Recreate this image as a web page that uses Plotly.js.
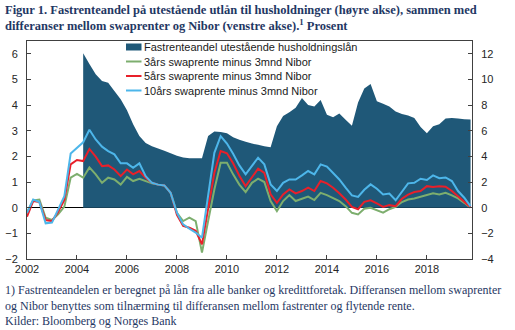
<!DOCTYPE html>
<html>
<head>
<meta charset="utf-8">
<script src="https://cdn.plot.ly/plotly-3.0.1.min.js"></script>
<style>html,body{margin:0;padding:0;background:#fff;}#chart{width:515px;height:330px;}</style>
</head>
<body>
<div id="chart"></div>
<script>
const quarters = [
"2002-01-01","2002-04-01","2002-07-01","2002-10-01","2003-01-01","2003-04-01","2003-07-01","2003-10-01",
"2004-01-01","2004-04-01","2004-07-01","2004-10-01","2005-01-01","2005-04-01","2005-07-01","2005-10-01",
"2006-01-01","2006-04-01","2006-07-01","2006-10-01","2007-01-01","2007-04-01","2007-07-01","2007-10-01",
"2008-01-01","2008-04-01","2008-07-01","2008-10-01","2009-01-01","2009-04-01","2009-07-01","2009-10-01",
"2010-01-01","2010-04-01","2010-07-01","2010-10-01","2011-01-01","2011-04-01","2011-07-01","2011-10-01",
"2012-01-01","2012-04-01","2012-07-01","2012-10-01","2013-01-01","2013-04-01","2013-07-01","2013-10-01",
"2014-01-01","2014-04-01","2014-07-01","2014-10-01","2015-01-01","2015-04-01","2015-07-01","2015-10-01",
"2016-01-01","2016-04-01","2016-07-01","2016-10-01","2017-01-01","2017-04-01","2017-07-01","2017-10-01",
"2018-01-01","2018-04-01","2018-07-01","2018-10-01","2019-01-01","2019-04-01","2019-07-01","2019-10-01"];

// Fixed-rate share (right axis), from 2004Q2
const fixedShareStart = "2004-04-01";
const fixedShare = [12.05,11.2,10.4,9.88,9.75,9.1,8.45,7.6,6.5,5.6,5.05,4.8,4.62,4.45,4.25,4.05,3.92,3.86,3.86,3.86,
5.6,5.95,5.9,5.8,5.5,5.3,5.15,5.0,4.9,4.8,4.72,
6.35,7.15,7.45,7.8,8.56,8.0,7.9,8.4,7.25,7.05,7.35,6.85,
6.4,8.2,9.3,9.65,8.3,8.1,7.9,7.5,7.3,7.2,7.0,6.3,5.8,6.35,6.5,6.95,7.0,6.95,6.9,6.87];

const swap3y = [-0.17,0.28,0.32,-0.39,-0.48,-0.26,0.04,1.17,1.32,1.17,1.57,1.30,0.97,1.17,1.10,0.90,1.20,1.04,1.13,1.04,
0.95,0.90,0.87,0.58,-0.20,-0.52,-0.39,-0.52,-1.75,-0.52,0.71,1.75,1.75,1.30,0.90,0.61,0.97,1.13,1.00,0.26,
-0.13,0.26,0.49,0.26,0.35,0.43,0.30,0.58,0.49,0.39,0.26,0.06,-0.20,-0.26,-0.04,0.00,-0.09,-0.19,-0.06,0.03,
0.22,0.32,0.36,0.42,0.48,0.56,0.52,0.58,0.48,0.36,0.19,0.00];

const swap5y = [-0.35,0.26,0.22,-0.48,-0.52,-0.17,0.30,1.69,1.86,1.82,2.29,1.99,1.62,1.65,1.49,1.23,1.49,1.30,1.43,1.17,
0.97,0.90,0.87,0.58,-0.28,-0.71,-0.78,-0.90,-1.43,0.00,1.36,2.21,2.12,1.73,1.25,0.84,1.17,1.52,1.36,0.52,
0.19,0.52,0.71,0.56,0.65,0.78,0.65,1.04,0.95,0.78,0.56,0.32,0.03,-0.06,0.23,0.29,0.17,0.03,0.10,0.06,
0.35,0.51,0.61,0.65,0.84,0.81,0.84,0.82,0.65,0.45,0.26,0.02];

const swap10y = [-0.20,0.32,0.22,-0.61,-0.58,-0.06,0.45,2.11,2.33,2.55,3.04,2.66,2.38,2.21,2.08,1.73,1.73,1.56,1.73,1.23,
0.97,0.90,0.87,0.58,-0.20,-0.65,-0.82,-0.97,-1.17,0.45,2.14,2.79,2.50,2.10,1.65,1.30,1.62,1.95,1.69,0.91,
0.65,0.97,1.10,1.10,1.26,1.43,1.30,1.69,1.60,1.36,1.10,0.78,0.48,0.42,0.70,0.91,0.74,0.52,0.55,0.29,
0.65,0.95,0.97,1.13,1.08,1.26,1.15,1.18,1.04,0.65,0.39,0.05];

const seriesNames = ["Fastrenteandel utestående husholdningslån","3års swaprente minus 3mnd Nibor",
"5års swaprente minus 3mnd Nibor","10års swaprente minus 3mnd Nibor"];
const seriesColors = ["#1F5878","#7DAE6E","#E8202A","#4DB6EA"];
const xTickVals = ["2002-01-01","2004-01-01","2006-01-01","2008-01-01","2010-01-01","2012-01-01","2014-01-01","2016-01-01","2018-01-01"];

const titleText = "<b>Figur 1. Fastrenteandel på utestående utlån til husholdninger (høyre akse), sammen med<br>differanser mellom swaprenter og Nibor (venstre akse).<sup>1</sup> Prosent</b>";
const noteText = "1) Fastrenteandelen er beregnet på lån fra alle banker og kredittforetak. Differansen mellom swaprenter<br>og Nibor benyttes som tilnærming til differansen mellom fastrenter og flytende rente.<br>Kilder: Bloomberg og Norges Bank";

const areaX = quarters.slice(quarters.indexOf(fixedShareStart));

// Area on base axis (y, right side) so that the lines (y2, overlaying) are drawn on top
const traces = [
  {x: areaX, y: fixedShare, yaxis: "y", type: "scatter", mode: "none", fill: "tozeroy",
   fillcolor: seriesColors[0], name: seriesNames[0], showlegend: false, hoverinfo: "skip"},
  {x: quarters, y: swap3y, yaxis: "y2", type: "scatter", mode: "lines", line: {color: seriesColors[1], width: 2}, name: seriesNames[1], showlegend: false},
  {x: quarters, y: swap5y, yaxis: "y2", type: "scatter", mode: "lines", line: {color: seriesColors[2], width: 2}, name: seriesNames[2], showlegend: false},
  {x: quarters, y: swap10y, yaxis: "y2", type: "scatter", mode: "lines", line: {color: seriesColors[3], width: 2}, name: seriesNames[3], showlegend: false}
];

// plot area geometry (pixels)
const W = 515, H = 330, L = 27, R = 43, T = 41, B = 71;
const pw = W - L - R, ph = H - T - B;
const px = v => (v - L) / pw;
const py = v => (H - B - v) / ph;

const legendRows = [47, 61.5, 76, 90.5];
const symX0 = px(126), symX1 = px(141.5), txtX = px(141.5);
const shapes = [];
const annotations = [];
seriesNames.forEach((n, i) => {
  if (i === 0) {
    shapes.push({type: "rect", xref: "paper", yref: "paper", x0: symX0, x1: symX1,
      y0: py(legendRows[i] + 3.5), y1: py(legendRows[i] - 3.5), fillcolor: seriesColors[i], line: {width: 0}});
  } else {
    shapes.push({type: "line", xref: "paper", yref: "paper", x0: symX0, x1: symX1,
      y0: py(legendRows[i]), y1: py(legendRows[i]), line: {color: seriesColors[i], width: 2}});
  }
  annotations.push({xref: "paper", yref: "paper", x: txtX, y: py(legendRows[i]), xanchor: "left", yanchor: "middle",
    text: n, showarrow: false, font: {family: "Liberation Sans, Arial, sans-serif", size: 11, color: "#1a1a1a"}});
});
annotations.push({xref: "paper", yref: "paper", x: px(3), y: py(281), xanchor: "left", yanchor: "top", align: "left",
  text: noteText, showarrow: false, font: {family: "Liberation Serif, Times New Roman, serif", size: 12, color: "#1F3864"}});
annotations.push({xref: "paper", yref: "paper", x: px(3), y: py(1), xanchor: "left", yanchor: "top", align: "left",
  text: titleText, showarrow: false, font: {family: "Liberation Serif, Times New Roman, serif", size: 12.5, color: "#1F3864"}});

const axisFont = {family: "Liberation Sans, Arial, sans-serif", size: 11, color: "#262626"};
const layout = {
  width: W, height: H,
  margin: {l: L, r: R, t: T, b: B, pad: 0},
  paper_bgcolor: "#fff", plot_bgcolor: "#fff",
  showlegend: false,
  xaxis: {type: "date", range: ["2002-01-01", "2019-10-22"], tickvals: xTickVals, tickformat: "%Y",
    ticks: "inside", ticklen: 4, tickcolor: "#404040", showline: true, linecolor: "#404040", linewidth: 1, mirror: true,
    showgrid: false, zeroline: false, tickfont: axisFont},
  yaxis: {range: [-4, 13], dtick: 2, tick0: 0, side: "right", ticks: "inside", ticklen: 4, tickcolor: "#404040",
    showline: true, linecolor: "#404040", linewidth: 1, showgrid: false, zeroline: false, tickfont: axisFont, ticklabelstandoff: 6},
  yaxis2: {range: [-2, 6.5], dtick: 1, tick0: 0, overlaying: "y", side: "left", ticks: "inside", ticklen: 4, tickcolor: "#404040",
    showline: true, linecolor: "#404040", linewidth: 1, showgrid: false,
    zeroline: true, zerolinecolor: "#000", zerolinewidth: 1.3, tickfont: axisFont, ticklabelstandoff: 6},
  shapes: shapes,
  annotations: annotations
};

Plotly.newPlot("chart", traces, layout, {displayModeBar: false, staticPlot: true});
</script>
</body>
</html>
